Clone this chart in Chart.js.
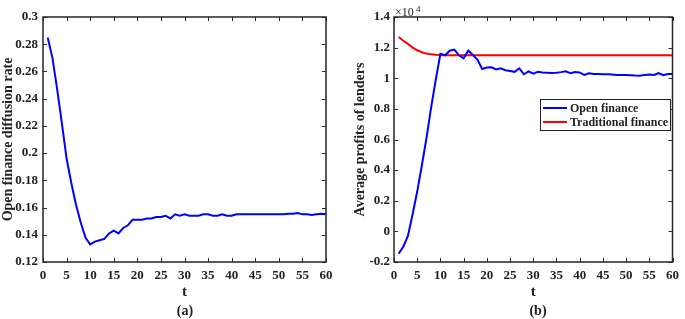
<!DOCTYPE html>
<html>
<head>
<meta charset="utf-8">
<script src="https://cdn.jsdelivr.net/npm/chart.js@4.4.0/dist/chart.umd.min.js"></script>
<style>
  body { margin: 0; background: #fff; }
  #wrap { position: relative; width: 685px; height: 319px; overflow: hidden; }
  canvas { position: absolute; top: 0; }
  .cap { position: absolute; font: bold 14px "Liberation Serif", serif; color: #222; transform: translate(-50%, -50%); }
</style>
</head>
<body>
<div id="wrap">
  <canvas id="rateChart" width="340" height="319" style="left:0"></canvas>
  <canvas id="profitChart" width="345" height="319" style="left:340px"></canvas>
  <div class="cap" style="left:185px; top:311px">(a)</div>
  <div class="cap" style="left:538px; top:311px">(b)</div>
</div>
<script>
// time steps
const steps = [1, 2, 3, 4, 5, 6, 7, 8, 9, 10, 11, 12, 13, 14, 15, 16, 17, 18, 19, 20,
  21, 22, 23, 24, 25, 26, 27, 28, 29, 30, 31, 32, 33, 34, 35, 36, 37, 38, 39, 40,
  41, 42, 43, 44, 45, 46, 47, 48, 49, 50, 51, 52, 53, 54, 55, 56, 57, 58, 59, 60];

// (a) open finance diffusion rate
const diffusionRate = [0.285, 0.270, 0.247, 0.222, 0.196, 0.178, 0.162, 0.149, 0.138, 0.133,
  0.135, 0.136, 0.137, 0.141, 0.143, 0.141, 0.145, 0.147, 0.151, 0.151,
  0.151, 0.152, 0.152, 0.153, 0.153, 0.154, 0.152, 0.155, 0.154, 0.155,
  0.154, 0.154, 0.154, 0.155, 0.155, 0.154, 0.154, 0.155, 0.154, 0.154,
  0.155, 0.155, 0.155, 0.155, 0.155, 0.155, 0.155, 0.155, 0.155, 0.155,
  0.155, 0.1555, 0.1555, 0.156, 0.155, 0.155, 0.1545, 0.155, 0.1555, 0.155];

// (b) average profits of lenders
const openProfit = [-1450, -1000, -300, 1100, 2600, 4300, 6100, 8100, 9900, 11600,
  11500, 11800, 11870, 11500, 11300, 11800, 11520, 11200, 10600, 10700,
  10720, 10580, 10650, 10520, 10470, 10420, 10650, 10260, 10450, 10300,
  10420, 10380, 10360, 10340, 10360, 10400, 10450, 10330, 10400, 10380,
  10220, 10320, 10280, 10270, 10260, 10260, 10240, 10220, 10210, 10210,
  10200, 10180, 10170, 10220, 10250, 10220, 10330, 10200, 10270, 10280];
const traditionalProfit = [12700, 12450, 12250, 12000, 11830, 11700, 11610, 11560, 11530, 11520,
  11510, 11510, 11510, 11510, 11510, 11510, 11510, 11510, 11510, 11510,
  11510, 11510, 11510, 11510, 11510, 11510, 11510, 11510, 11510, 11510,
  11510, 11510, 11510, 11510, 11510, 11510, 11510, 11510, 11510, 11510,
  11510, 11510, 11510, 11510, 11510, 11510, 11510, 11510, 11510, 11510,
  11510, 11510, 11510, 11510, 11510, 11510, 11510, 11510, 11510, 11510];

const xTicks = [0, 5, 10, 15, 20, 25, 30, 35, 40, 45, 50, 55, 60];

const serif = '"Liberation Serif", "Times New Roman", serif';
const axisColor = '#262626';

const pts = vals => steps.map((t, i) => ({ x: t, y: vals[i] }));

// MATLAB-like boxed axes with inward ticks on every side
const boxTicks = {
  id: 'boxTicks',
  afterDatasetsDraw(chart) {
    const { ctx, chartArea: a, scales: { x, y } } = chart;
    ctx.save();
    ctx.strokeStyle = axisColor;
    ctx.lineWidth = 1;
    ctx.beginPath();
    x.ticks.forEach(t => {
      const px = Math.round(x.getPixelForValue(t.value)) + 0.5;
      ctx.moveTo(px, a.bottom); ctx.lineTo(px, a.bottom - 4);
      ctx.moveTo(px, a.top); ctx.lineTo(px, a.top + 4);
    });
    y.ticks.forEach(t => {
      const py = Math.round(y.getPixelForValue(t.value)) + 0.5;
      ctx.moveTo(a.left, py); ctx.lineTo(a.left + 4, py);
      ctx.moveTo(a.right, py); ctx.lineTo(a.right - 4, py);
    });
    ctx.stroke();
    ctx.lineWidth = 1.5;
    ctx.strokeRect(a.left, a.top, a.width, a.height);
    ctx.restore();
  }
};

// legend box drawn inside the plot, plus the x10^4 exponent
const boxLegend = {
  id: 'boxLegend',
  afterDraw(chart) {
    if (!chart.options.plugins.boxLegend) return;
    const { ctx, chartArea: a } = chart;
    ctx.save();
    ctx.fillStyle = '#222';
    ctx.font = '12px ' + serif;
    ctx.textBaseline = 'alphabetic';
    ctx.fillText('\u00d710', a.left + 1, 16);
    ctx.font = '9px ' + serif;
    ctx.fillText('4', a.left + 22, 12);

    const bx = 200, by = 99, bw = 130, bh = 31;
    ctx.fillStyle = '#fff';
    ctx.fillRect(bx, by, bw, bh);
    ctx.strokeStyle = '#222';
    ctx.lineWidth = 1;
    ctx.strokeRect(bx + 0.5, by + 0.5, bw, bh);
    ctx.font = 'bold 12px ' + serif;
    ctx.textBaseline = 'middle';
    chart.data.datasets.forEach((ds, i) => {
      const ly = by + 9 + i * 14;
      ctx.strokeStyle = ds.borderColor;
      ctx.lineWidth = 2;
      ctx.beginPath();
      ctx.moveTo(bx + 3, ly); ctx.lineTo(bx + 27, ly);
      ctx.stroke();
      ctx.fillStyle = '#222';
      ctx.fillText(ds.label, bx + 30, ly + 1);
    });
    ctx.restore();
  }
};

function xScale() {
  return {
    type: 'linear', min: 0, max: 60,
    afterBuildTicks: s => { s.ticks = xTicks.map(v => ({ value: v })); },
    afterFit: s => { s.height = 57; },
    grid: { display: false, tickLength: 0 }, border: { display: false },
    ticks: { autoSkip: false, maxRotation: 0, padding: 6, color: '#222', font: { family: serif, size: 13, weight: 'bold' } },
    title: { display: true, text: 't', color: '#222', padding: { top: 18, bottom: 18 }, font: { family: serif, size: 15, weight: 'bold' } }
  };
}

new Chart(document.getElementById('rateChart'), {
  type: 'line',
  data: {
    datasets: [{ label: 'Open finance', data: pts(diffusionRate), borderColor: '#0000ff', borderWidth: 2, pointRadius: 0, tension: 0 }]
  },
  options: {
    responsive: false, animation: false,
    layout: { padding: { top: 17, right: 14, left: 0, bottom: 0 } },
    plugins: { legend: { display: false }, tooltip: { enabled: false } },
    scales: {
      x: xScale(),
      y: {
        min: 0.12, max: 0.3,
        afterFit: s => { s.width = 43; },
        grid: { display: false, tickLength: 0 }, border: { display: false },
        ticks: { stepSize: 0.02, padding: 5, color: '#222', font: { family: serif, size: 13, weight: 'bold' },
          callback: v => String(+v.toFixed(2)) },
        title: { display: true, text: 'Open finance diffusion rate', color: '#222', padding: 0, font: { family: serif, size: 14, weight: 'bold' } }
      }
    }
  },
  plugins: [boxTicks]
});

new Chart(document.getElementById('profitChart'), {
  type: 'line',
  data: {
    datasets: [
      { label: 'Open finance', data: pts(openProfit), borderColor: '#0000ff', borderWidth: 2, pointRadius: 0, tension: 0 },
      { label: 'Traditional finance', data: pts(traditionalProfit), borderColor: '#ff0000', borderWidth: 2, pointRadius: 0, tension: 0 }
    ]
  },
  options: {
    responsive: false, animation: false,
    layout: { padding: { top: 17, right: 8, left: 0, bottom: 0 } },
    plugins: { legend: { display: false }, tooltip: { enabled: false }, boxLegend: true },
    scales: {
      x: xScale(),
      y: {
        min: -2000, max: 14000,
        afterFit: s => { s.width = 54; },
        grid: { display: false, tickLength: 0 }, border: { display: false },
        ticks: { stepSize: 2000, padding: 4, color: '#222', font: { family: serif, size: 13, weight: 'bold' },
          callback: v => String(+(v / 10000).toFixed(1)) },
        title: { display: true, text: 'Average profits of lenders', color: '#222', padding: { top: 12, bottom: 0 }, font: { family: serif, size: 14, weight: 'bold' } }
      }
    }
  },
  plugins: [boxTicks, boxLegend]
});
</script>
</body>
</html>
